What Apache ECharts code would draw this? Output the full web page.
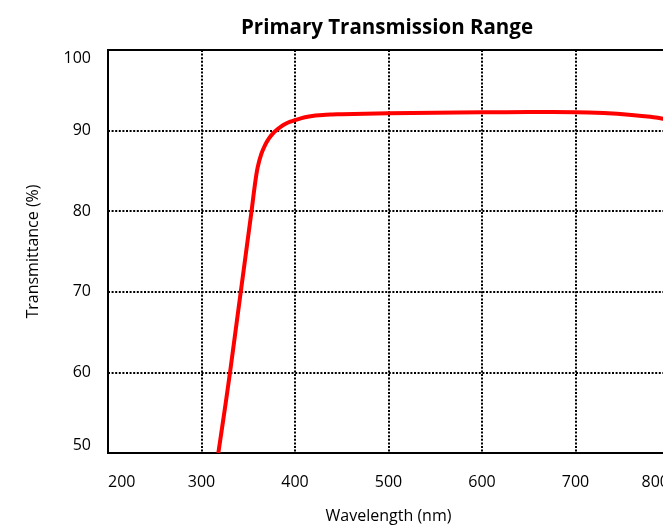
<!DOCTYPE html>
<html>
<head>
<meta charset="utf-8">
<script src="https://cdn.jsdelivr.net/npm/echarts@6/dist/echarts.min.js"></script>
<style>
html,body{margin:0;padding:0;background:#fff;overflow:hidden;}
#chart{width:680px;height:529px;}
</style>
</head>
<body>
<div id="chart"></div>
<script>
var titleText = 'Primary Transmission Range';
var xName = 'Wavelength (nm)';
var yName = 'Transmittance (%)';
var wavelength = [318, 325, 330.5, 342, 353.5, 357, 360, 364, 368, 372, 376, 380, 385, 390, 395, 400, 407, 415, 422, 430, 440, 450, 475, 500, 550, 600, 650, 700, 730, 760, 780, 800];
var transmittance = [50, 55.5, 60, 70, 80, 83.2, 85.4, 87.1, 88.2, 89.0, 89.6, 90.05, 90.5, 90.85, 91.1, 91.3, 91.55, 91.75, 91.87, 91.95, 92.0, 92.04, 92.1, 92.15, 92.22, 92.27, 92.3, 92.28, 92.17, 91.95, 91.72, 91.35];

var seriesData = wavelength.map(function (w, i) { return [w, transmittance[i]]; });

var chart = echarts.init(document.getElementById('chart'));
var font = 'Open Sans';
chart.setOption({
  animation: false,
  backgroundColor: '#fff',
  title: {
    text: titleText,
    left: 382,
    textAlign: 'center',
    top: 13,
    textStyle: { fontFamily: font, fontWeight: 'bold', fontSize: 20.5, color: '#000' }
  },
  grid: {
    left: 108, top: 50, width: 561, height: 408,
    show: true, borderColor: '#000', borderWidth: 2, backgroundColor: 'transparent'
  },
  xAxis: {
    type: 'value', min: 200, max: 800, interval: 100,
    name: xName, nameLocation: 'middle', nameGap: 55,
    nameTextStyle: { fontFamily: font, fontSize: 16, color: '#000' },
    axisLine: { show: false },
    axisTick: { show: false },
    axisLabel: { fontFamily: font, fontSize: 16, color: '#000', margin: 21,
      alignMinLabel: 'left', alignMaxLabel: 'right' },
    splitLine: { show: true, lineStyle: { color: '#000', width: 2, type: [2, 1.6] } }
  },
  yAxis: {
    type: 'value', min: 50, max: 100, interval: 10,
    name: yName, nameLocation: 'middle', nameGap: 67,
    nameTextStyle: { fontFamily: font, fontSize: 16, color: '#000' },
    axisLine: { show: false },
    axisTick: { show: false },
    axisLabel: { fontFamily: font, fontSize: 16, color: '#000', margin: 17,
      verticalAlignMinLabel: 'bottom', verticalAlignMaxLabel: 'top' },
    splitLine: { show: true, lineStyle: { color: '#000', width: 2, type: [2, 1.6] } }
  },
  series: [{
    type: 'line',
    data: seriesData,
    showSymbol: false,
    smooth: 0.3,
    lineStyle: { color: '#ff0000', width: 4 },
    clip: true
  }]
});
</script>
</body>
</html>
